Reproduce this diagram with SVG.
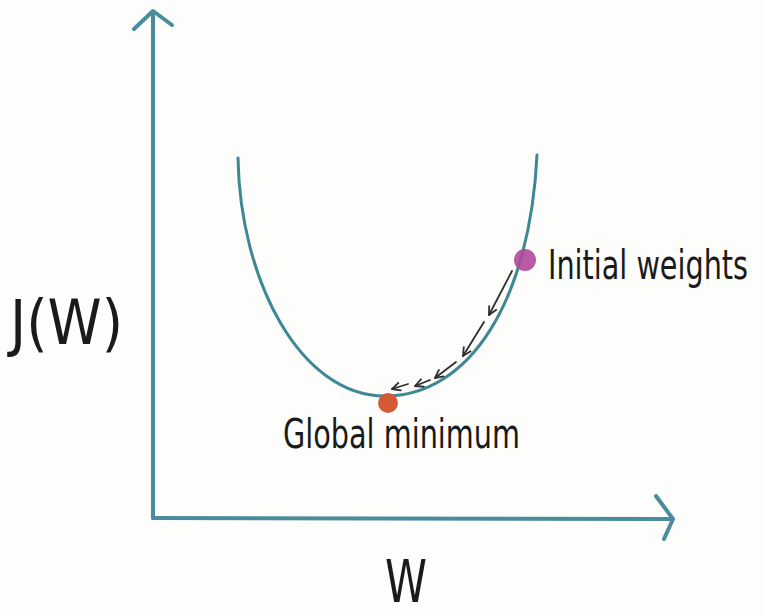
<svg xmlns="http://www.w3.org/2000/svg" width="763" height="615" viewBox="0 0 763 615">
<style>
.axis{fill:none;stroke:#4a8c9c;stroke-width:4;stroke-linecap:round;stroke-linejoin:round}
.curve{fill:none;stroke:#3f8795;stroke-width:3;stroke-linecap:round}
.step{fill:none;stroke:#2e2e2e;stroke-width:1.8;stroke-linecap:round}
.lbl{font-family:"Liberation Sans Narrow","DejaVu Sans Condensed","Liberation Sans",sans-serif;fill:#1a1a1a}
</style>
<defs>
<marker id="ah" viewBox="0 0 10 10" refX="9" refY="5" markerWidth="10" markerHeight="10" markerUnits="userSpaceOnUse" orient="auto">
<path d="M1,1 L9,5 L1,9" fill="none" stroke="#2e2e2e" stroke-width="1.8" stroke-linecap="round" stroke-linejoin="round"/>
</marker>
</defs>
<rect width="763" height="615" fill="#fdfdfb"/>
<g id="axes">
<path class="axis" d="M153,518 L153,12"/>
<path class="axis" d="M134,29 L153,11 L172,25"/>
<path class="axis" d="M153,518 L672,519"/>
<path class="axis" d="M656,496 L673,519 L664,539"/>
</g>
<g id="cost-curve">
<path class="curve" d="M238,158 C240,280 300,396 385,396 C470,396 530,300 537,155"/>
</g>
<g id="connectors">
<path class="step" d="M512,271 L489,315" marker-end="url(#ah)"/>
<path class="step" d="M484,322 L463,356" marker-end="url(#ah)"/>
<path class="step" d="M456,362 L435,378" marker-end="url(#ah)"/>
<path class="step" d="M430,380 L415,386" marker-end="url(#ah)"/>
<path class="step" d="M408,384 L392,389" marker-end="url(#ah)"/>
</g>
<g id="initial-weights">
<circle cx="525" cy="260" r="11" fill="#b0489c" opacity="0.9"/>
<text class="lbl" x="548" y="279" font-size="32" textLength="200" lengthAdjust="spacingAndGlyphs" transform="translate(548 279) scale(1 1.25) translate(-548 -279)">Initial weights</text>
</g>
<g id="global-minimum">
<circle cx="388" cy="403" r="10" fill="#d45a35"/>
<text class="lbl" x="283" y="448" font-size="40" textLength="237" lengthAdjust="spacingAndGlyphs">Global minimum</text>
</g>
<g id="y-label">
<text class="lbl" x="10" y="344" font-size="62" textLength="113" lengthAdjust="spacingAndGlyphs">J(W)</text>
</g>
<g id="x-label">
<text class="lbl" x="385" y="602" font-size="58" textLength="42" lengthAdjust="spacingAndGlyphs">W</text>
</g>
</svg>
